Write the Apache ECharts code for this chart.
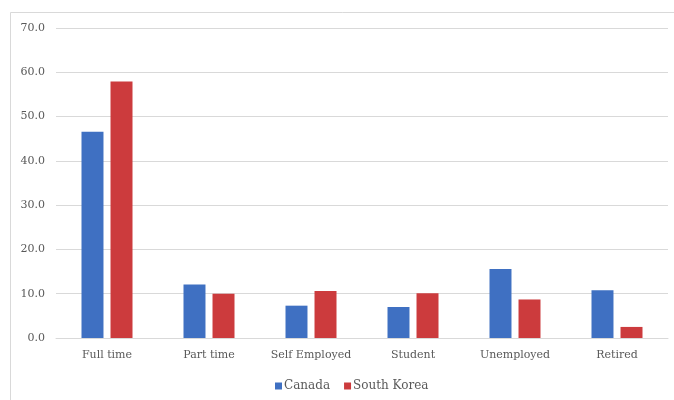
<!DOCTYPE html>
<html>
<head>
<meta charset="utf-8">
<script src="https://cdn.jsdelivr.net/npm/echarts@6/dist/echarts.min.js"></script>
<style>html,body{margin:0;padding:0;background:#fff}#c{width:674px;height:400px}</style>
</head>
<body>
<div id="c"></div>
<script>
const categories = ['Full time', 'Part time', 'Self Employed', 'Student', 'Unemployed', 'Retired'];
const canada = [46.6, 12.1, 7.3, 7.0, 15.6, 10.8];
const southKorea = [57.9, 10.0, 10.6, 10.1, 8.7, 2.5];
const seriesNames = ['Canada', 'South Korea'];

const chart = echarts.init(document.getElementById('c'), null, {renderer: 'canvas'});
const font = 'DejaVu Serif';
chart.setOption({
  animation: false,
  backgroundColor: '#fff',
  graphic: [{
    type: 'rect', left: 8, top: 10, silent: true, z: -10,
    shape: {width: 700, height: 420},
    style: {fill: 'none', stroke: '#d9d9d9', lineWidth: 1}
  }],
  grid: {left: 56, right: 6, top: 28, bottom: 62, containLabel: false},
  legend: {
    data: seriesNames,
    top: 375,
    left: 270,
    itemWidth: 7, itemHeight: 7, itemGap: 14,
    icon: 'rect',
    textStyle: {fontFamily: font, fontSize: 12, color: '#595959', padding: [0, 0, 0, -3]}
  },
  xAxis: {
    type: 'category',
    data: categories,
    axisTick: {show: false},
    axisLine: {lineStyle: {color: '#d9d9d9'}},
    axisLabel: {interval: 0, fontFamily: font, fontSize: 11, color: '#595959', margin: 12}
  },
  yAxis: {
    type: 'value', min: 0, max: 70, interval: 10,
    axisLine: {show: false}, axisTick: {show: false},
    splitLine: {lineStyle: {color: '#d9d9d9'}},
    axisLabel: {fontFamily: font, fontSize: 11, color: '#595959', formatter: v => v.toFixed(1), margin: 11}
  },
  series: [
    {name: seriesNames[0], type: 'bar', data: canada, itemStyle: {color: '#3f70c2'}, barGap: '32%', barCategoryGap: '50%'},
    {name: seriesNames[1], type: 'bar', data: southKorea, itemStyle: {color: '#cc3b3d'}}
  ]
});
</script>
</body>
</html>
